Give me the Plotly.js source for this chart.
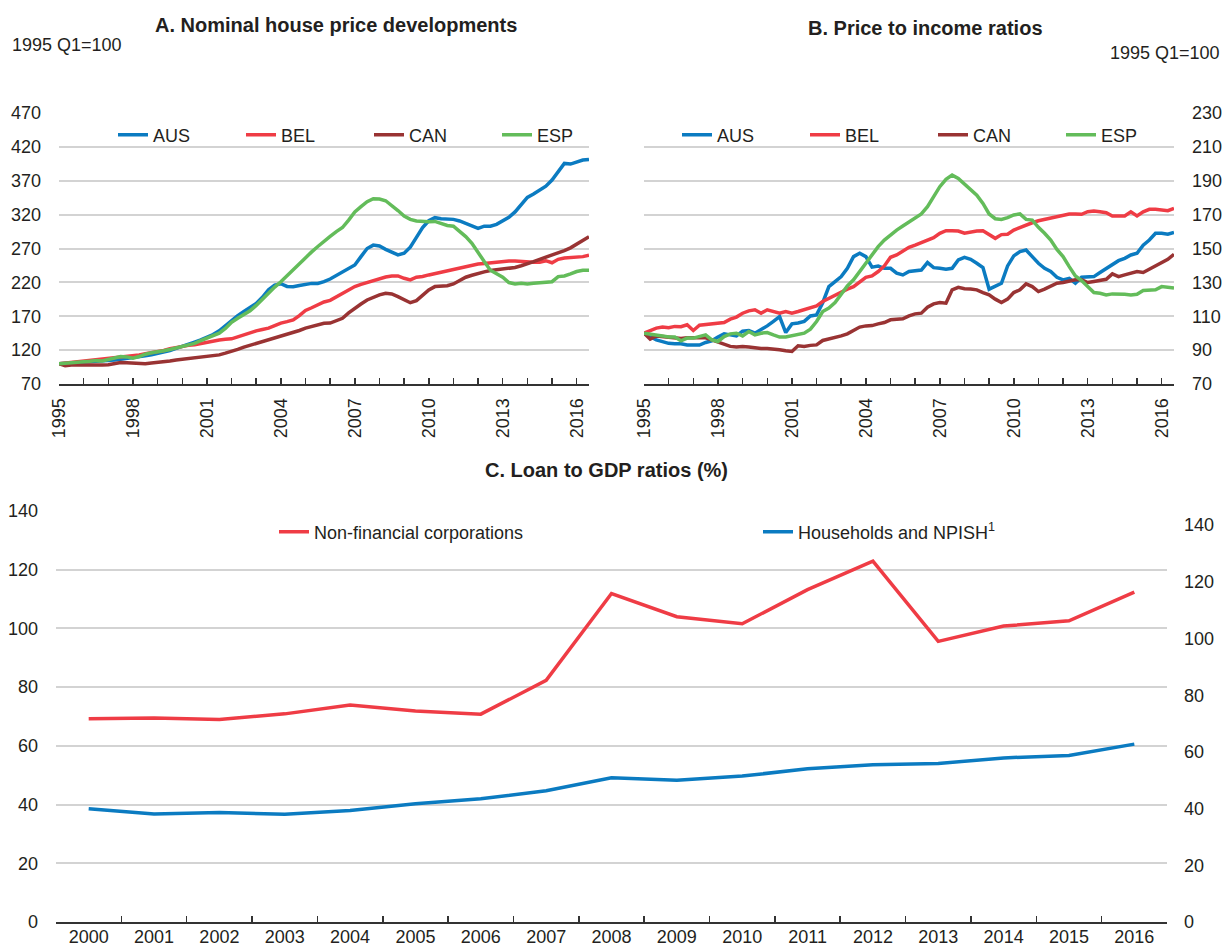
<!DOCTYPE html>
<html>
<head>
<meta charset="utf-8">
<script src="https://cdn.plot.ly/plotly-3.0.1.min.js"></script>
<style>html,body{margin:0;padding:0;background:#fff;overflow:hidden;}#chart{width:1224px;height:947px;}</style>
</head>
<body>
<div id="chart"></div>
<script>
// ---------- DATA ----------
// Quarterly series, 1995Q1 .. 2016Q3
const startYear = 1995;
const countries = ['AUS', 'BEL', 'CAN', 'ESP'];

// Panel A: nominal house prices (1995 Q1 = 100)
const nomAUS = [100,100.5,101,101.5, 102,102.5,103,103.5, 104.5,105.5,106.5,107.5, 108.5,110,111.5,113,
  115,117,119.5,122.5, 126,129,131.8,135, 138.7,143,148.5,156, 164.5,171,177,183, 189,198,209,216,
  218,214,213.5,215.5, 217.5,218.5,218.5,221, 225,230,236,240.8, 245.7,258,270,275, 273.7,268.8,264,260.5,
  263,272,286.5,301, 311,315.5,314,313.5, 313,310.6,307,303, 299.8,303,303,305.7, 311,316,324,335.6,
  345.5,350.4,356,362, 371,383,395.6,394.6, 397.5,400.5,401.5];
const nomBEL = [100,101,102,103, 104,104.5,105,106, 107,108,109,110.5, 111.6,113,114.5,116,
  117.5,119.5,122,124, 126,127,128,130, 131.8,133.5,135,136, 136.7,139.5,142.6,145.5, 148.5,150.5,152.4,156,
  159.8,162,164.7,171, 178.5,182.5,186.8,191, 193.5,198.5,203,208.5, 213.8,217,219.7,223, 226,228,229.5,229.5,
  226,223.6,227.6,228.6, 231,233,235,237, 239.4,241.8,244,245.5, 247,248,249,249, 251,251.5,251.6,250.7,
  249.7,249.7,249.7,252, 249,254,256,256.5, 257,258,260];
const nomCAN = [100,97,98,98, 97,97.5,98,98.2, 98.4,100,101.8,101.5, 101,100.5,100,101,
  101.8,103,104,105.5, 106.7,107.5,108,109.5, 110.7,112,113,115.5, 118,121,124.4,127, 130,132.5,135,138,
  141,143.5,146,149, 152.4,154.5,157,159.5, 160,163,167,175, 182,188,194,198, 201.5,204,203,199,
  194,190,193,201.5, 209,213.8,215,215, 217.7,222.7,227.6,230.5, 233.5,235.5,237.4,238.5, 239.4,241,242,244.5,
  247,250.5,254,257, 260.5,264,267,271, 276.7,282.6,287.5];
const nomESP = [100,101,102,102.5, 103,103.5,104.5,104, 106,108,110.5,110, 108,110.5,114,116,
  117,119,121,123, 126,128,130,134, 137.7,141,145,152, 161,167,172,178, 186,195,205,213,
  221,230,239,248, 257,265,273,281, 288,295,301,312, 324,331.7,339,343.5, 343,340.5,334,326,
  318,313,310.6,309.6, 309.6,310,307,304, 303,296,287.5,277.7, 263,250.7,238,232.5, 227.6,219.7,217.8,218.7,
  217.8,218.7,219.7,220, 221,228.5,229.5,232.5, 236,238,238];

// Panel B: price to income ratios (1995 Q1 = 100)
const ptiAUS = [100,98,96,95, 94,93.7,93.7,93, 93,93,94.5,95.5, 97.7,99.6,99,98.4,
  101.2,101.6,100,102, 104.3,107,109.8,100.4, 105.5,106,107,110.2, 110.8,118,127.5,130.5, 133.4,138.3,145.2,147.2,
  145.2,139,139.7,138.3, 138.3,135.4,134.4,136.4, 137,137.3,141.7,138.7, 138.3,137.7,138.3,143.2, 144.8,143.6,141.3,138.7,
  126,127.5,129.5,139.7, 145.6,148.2,149.1,145.2, 141.3,138.3,136.4,133, 131.5,132.4,129.5,133, 133,133.4,135.8,138.3,
  140.9,142.8,144.2,146.2, 147.2,152,155,159, 159,158.4,159.5];
const ptiBEL = [100,101.6,103,103.6, 103.2,104,103.8,105, 101.6,104.7,105.1,106, 106.3,106.3,108.3,109.5,
  111.8,113.2,113.8,111.8, 113.8,113,111.8,112.8, 111.8,112.8,113.8,114.8, 116.1,118.7,120.6,122.6, 124,126,127.5,130.5,
  133,133.8,136.4,139.7, 144.8,146.2,148.2,150.7, 152,153.5,155.4,156.4, 159,160.5,160.5,160.3, 159,159.7,160.3,160.5,
  158,156,158.2,158.4, 160.9,162.5,163.9,165.2, 166.4,167.2,168.4,168.8, 169.8,170.4,170.4,170.2, 171.7,172.1,171.7,171.1,
  169.2,169.2,169.2,171.7, 169.2,171.7,173.1,173.1, 172.7,172.3,173.7];
const ptiCAN = [100,96.5,98.4,98, 97.7,97.1,96.9,97.3, 97.3,97.7,97.3,96.1, 94.9,93.7,92.2,91.8,
  92.2,91.8,91.2,91, 91,90.8,90.2,89.6, 89.2,92.6,92.2,92.8, 93.1,95.7,96.5,97.5, 98.4,99.6,101.6,103.6,
  104.3,104.5,105.5,106.3, 107.9,108.3,108.5,110.2, 111.4,111.8,115.3,117.3, 118.1,117.7,125.6,127.1, 126.3,126.1,125.6,124,
  122.6,120.1,118.1,120.1, 124,125.6,129.1,127.5, 124.6,126,127.5,129.5, 129.9,130.9,131.5,131.5, 129.9,130.5,131.1,131.8,
  135,133.4,134.4,135.4, 136.4,135.8,137.7,139.7, 141.3,143.6,146.6];
const ptiESP = [100,99.6,99,98.4, 97.7,97.7,95.5,97.1, 97.1,98,99,96.1, 95.1,98,99.6,100,
  98.4,101,99,100, 100.4,99,97.7,97.7, 98.4,99,100,102.4, 106.9,112.8,114.8,118.1, 122.6,127.9,131.5,136.4,
  141.3,146.2,151.1,155, 158,160.9,163.3,165.8, 168.4,170.4,174.7,180.6, 186.5,190.8,193.3,191.4, 188,184.9,181.5,176.6,
  170.4,167.6,167.2,168.2, 169.8,170.4,167.2,166.8, 162.5,159,155,149.5, 145.2,139.3,133.8,131.1, 127.5,124,123.6,122.6,
  123.2,123.2,123,122.6, 123,125.2,125.2,125.6, 127.5,127.1,126.7];

// Panel C: loan to GDP ratios (%)
const loanYears = ['2000','2001','2002','2003','2004','2005','2006','2007','2008','2009','2010','2011','2012','2013','2014','2015','2016'];
const nonFinCorp = [69.2,69.5,69.0,70.9,73.9,71.9,70.8,82.3,111.9,104.0,101.6,113.2,122.9,95.6,100.8,102.6,112.4];
const households = [38.6,36.8,37.3,36.7,38.0,40.3,42.0,44.7,49.1,48.3,49.7,52.2,53.6,54.0,55.9,56.7,60.6];

const yearTicksA = [1995,1998,2001,2004,2007,2010,2013,2016];
const loanTicksRight = [0,20,40,60,80,100,120,140];

// ---------- STYLE ----------
const colors = {AUS:'#0b7bc1', BEL:'#ef3c45', CAN:'#993333', ESP:'#63bc5a'};
const FONT = "'Liberation Sans', Arial, sans-serif";
const TXT = '#231f20';
const GRID = '#d3d3d3';
const AXL = '#333333';
const FS = 18;

const quarterX = nomAUS.map((_, i) => startYear + i / 4);

const seriesA = {AUS: nomAUS, BEL: nomBEL, CAN: nomCAN, ESP: nomESP};
const seriesB = {AUS: ptiAUS, BEL: ptiBEL, CAN: ptiCAN, ESP: ptiESP};

const traces = [];
countries.forEach(c => {
  traces.push({x: quarterX, y: seriesA[c], type: 'scatter', mode: 'lines', name: c,
    line: {color: colors[c], width: 3.5}, xaxis: 'x', yaxis: 'y', legend: 'legend', hoverinfo: 'skip'});
});
countries.forEach(c => {
  traces.push({x: quarterX, y: seriesB[c], type: 'scatter', mode: 'lines', name: c,
    line: {color: colors[c], width: 3.5}, xaxis: 'x2', yaxis: 'y2', legend: 'legend2', hoverinfo: 'skip'});
});
traces.push({x: loanYears, y: nonFinCorp, type: 'scatter', mode: 'lines', name: 'Non-financial corporations',
  line: {color: colors.BEL, width: 3.5}, xaxis: 'x3', yaxis: 'y3', legend: 'legend3', hoverinfo: 'skip'});
traces.push({x: loanYears, y: households, type: 'scatter', mode: 'lines', name: 'Households and NPISH<sup>1</sup>',
  line: {color: colors.AUS, width: 3.5}, xaxis: 'x3', yaxis: 'y3', legend: 'legend4', hoverinfo: 'skip'});

const W = 1224, H = 947;
const px = v => v / W;
const py = v => 1 - v / H;

const xQuarterAxis = (dom) => ({
  domain: dom, range: [1995, 2016.5], tickvals: yearTicksA, ticktext: yearTicksA.map(String),
  tickangle: -90, ticks: 'inside', ticklen: 6, tickwidth: 1.5, tickcolor: AXL,
  minor: {dtick: 1, tick0: 1995, ticks: 'inside', ticklen: 6, tickwidth: 1.5, tickcolor: AXL, showgrid: false},
  showline: true, linecolor: AXL, linewidth: 2, showgrid: false, zeroline: false,
  tickfont: {size: FS, color: TXT, family: FONT}, ticklabelstandoff: 5, fixedrange: true
});

const legendBase = {orientation: 'h', xanchor: 'left', yanchor: 'middle', bgcolor: 'rgba(0,0,0,0)',
  font: {size: FS, color: TXT, family: FONT}, traceorder: 'normal', entrywidthmode: 'pixels', itemclick: false};

const layout = {
  width: W, height: H, margin: {l: 0, r: 0, t: 0, b: 0, autoexpand: false},
  paper_bgcolor: '#fff', plot_bgcolor: 'rgba(0,0,0,0)',
  font: {family: FONT, color: TXT, size: FS}, showlegend: true, hovermode: false,
  xaxis: Object.assign(xQuarterAxis([px(59), px(589)]), {anchor: 'y'}),
  yaxis: {domain: [py(384), py(113)], range: [70, 470], dtick: 50, tick0: 70, anchor: 'x', side: 'left',
    showgrid: true, gridcolor: GRID, gridwidth: 2, zeroline: false, showline: false, ticks: '',
    tickfont: {size: FS, color: TXT, family: FONT}, ticklabelstandoff: 17, fixedrange: true},
  xaxis2: Object.assign(xQuarterAxis([px(644), px(1174)]), {anchor: 'y2'}),
  yaxis2: {domain: [py(384), py(113)], range: [70, 230], dtick: 20, tick0: 70, anchor: 'x2', side: 'right',
    showgrid: true, gridcolor: GRID, gridwidth: 2, zeroline: false, showline: false, ticks: '',
    tickfont: {size: FS, color: TXT, family: FONT}, ticklabelstandoff: 17, fixedrange: true},
  xaxis3: {domain: [px(56), px(1167)], anchor: 'y3', type: 'category', tickson: 'boundaries', range: [-0.5, 16.5],
    ticks: 'inside', ticklen: 6, tickwidth: 1.5, tickcolor: AXL, showline: true, linecolor: AXL, linewidth: 2,
    showgrid: false, zeroline: false, tickfont: {size: FS, color: TXT, family: FONT}, ticklabelstandoff: -3, fixedrange: true},
  yaxis3: {domain: [py(922), py(511)], range: [0, 140], dtick: 20, anchor: 'x3', side: 'left',
    showgrid: true, gridcolor: GRID, gridwidth: 2, zeroline: false, showline: false, ticks: '',
    tickfont: {size: FS, color: TXT, family: FONT}, ticklabelstandoff: 17, fixedrange: true},
  yaxis4: {overlaying: 'y3', anchor: 'x3', side: 'right', range: [0, 145], tickvals: loanTicksRight,
    showgrid: false, zeroline: false, showline: false, ticks: '',
    tickfont: {size: FS, color: TXT, family: FONT}, ticklabelstandoff: 16, fixedrange: true},
  legend: Object.assign({}, legendBase, {x: px(113), y: py(135), entrywidth: 83}),
  legend2: Object.assign({}, legendBase, {x: px(677), y: py(135), entrywidth: 83}),
  legend3: Object.assign({}, legendBase, {x: px(274), y: py(532)}),
  legend4: Object.assign({}, legendBase, {x: px(758), y: py(532)}),
  annotations: [
    {text: '<b>A. Nominal house price developments</b>', x: px(336), y: py(25), xref: 'paper', yref: 'paper',
      xanchor: 'center', yanchor: 'middle', showarrow: false, font: {size: 20, color: TXT, family: FONT}},
    {text: '<b>B. Price to income ratios</b>', x: px(925), y: py(28), xref: 'paper', yref: 'paper',
      xanchor: 'center', yanchor: 'middle', showarrow: false, font: {size: 20, color: TXT, family: FONT}},
    {text: '<b>C. Loan to GDP ratios (%)</b>', x: px(606), y: py(470), xref: 'paper', yref: 'paper',
      xanchor: 'center', yanchor: 'middle', showarrow: false, font: {size: 20, color: TXT, family: FONT}},
    {text: '1995 Q1=100', x: px(10), y: py(45), xref: 'paper', yref: 'paper',
      xanchor: 'left', yanchor: 'middle', showarrow: false, font: {size: FS, color: TXT, family: FONT}},
    {text: '1995 Q1=100', x: px(1222), y: py(53), xref: 'paper', yref: 'paper',
      xanchor: 'right', yanchor: 'middle', showarrow: false, font: {size: FS, color: TXT, family: FONT}}
  ]
};

// carrier trace (no visible points) so the right-hand axis of panel C is drawn
traces.push({x: [loanYears[0]], y: [null], type: 'scatter', mode: 'lines', xaxis: 'x3', yaxis: 'y4',
  showlegend: false, hoverinfo: 'skip'});

Plotly.newPlot('chart', traces, layout, {displayModeBar: false, staticPlot: true});
</script>
</body>
</html>
